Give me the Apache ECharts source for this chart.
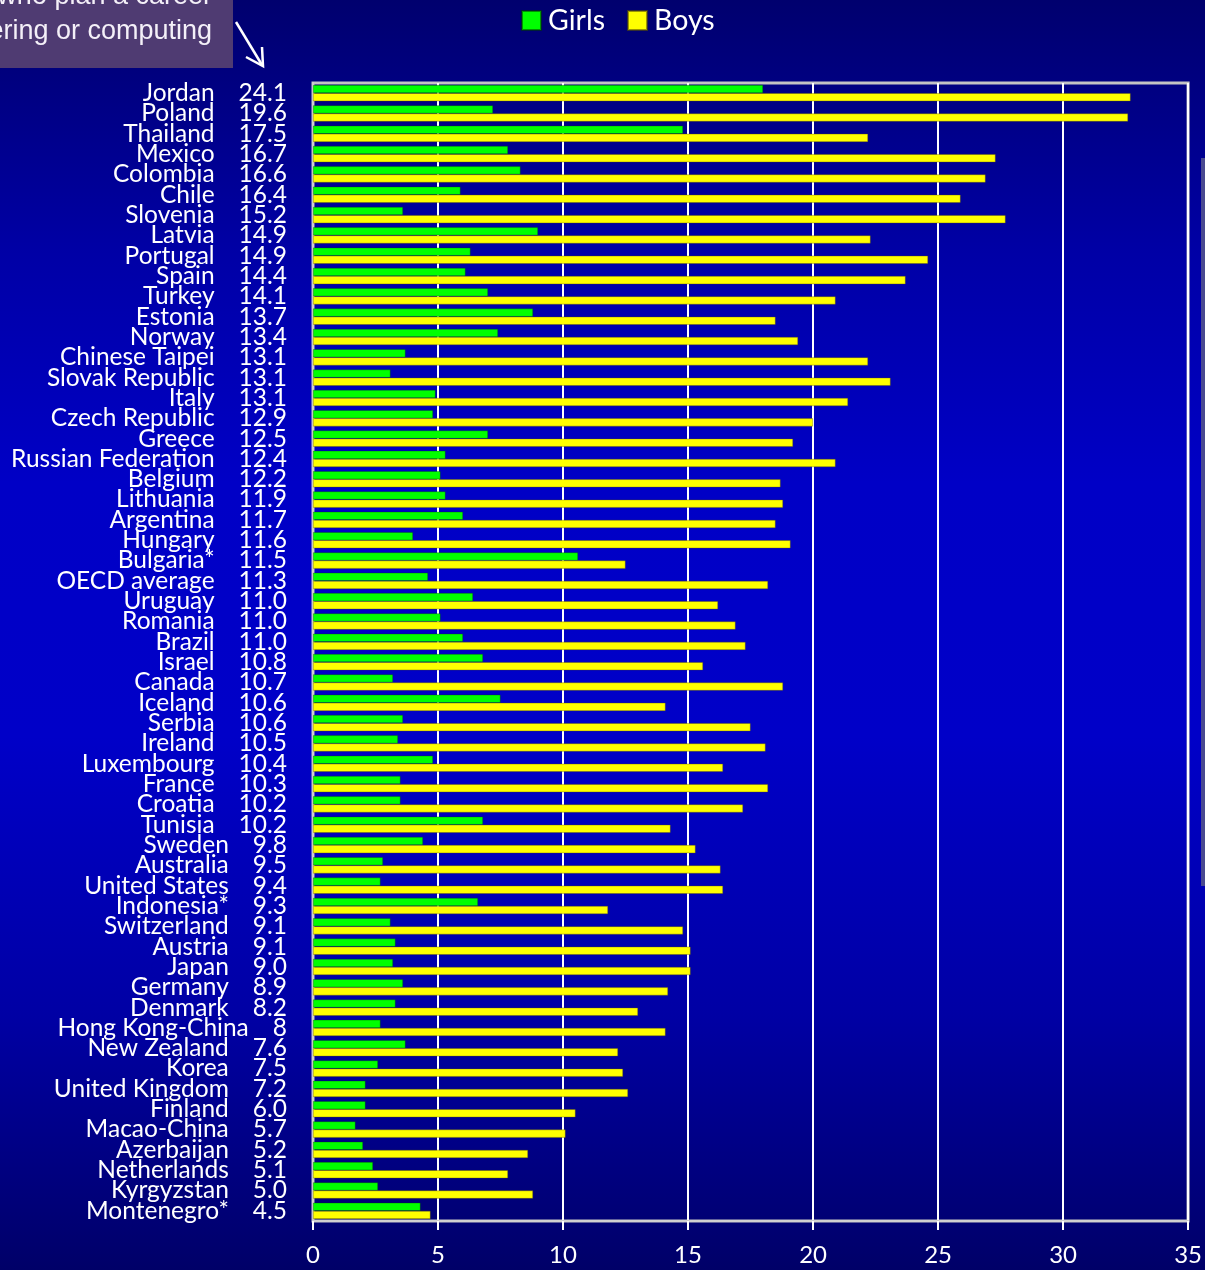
<!DOCTYPE html>
<html>
<head>
<meta charset="utf-8">
<script src="https://cdn.jsdelivr.net/npm/echarts@6/dist/echarts.min.js"></script>
<style>
  html, body { margin: 0; padding: 0; }
  #chart {
    width: 1205px; height: 1270px;
    background: linear-gradient(to bottom, #00006e 0%, #0000a6 20%, #0000c6 38%, #0000c8 58%, #0000a4 80%, #000068 100%);
  }
</style>
</head>
<body>
<div id="chart"></div>
<script>
// Countries, ranked by the share of 15-year-olds planning such a career
const countries = [
  'Jordan', 'Poland', 'Thailand', 'Mexico', 'Colombia', 'Chile', 'Slovenia',
  'Latvia', 'Portugal', 'Spain', 'Turkey', 'Estonia', 'Norway', 'Chinese Taipei',
  'Slovak Republic', 'Italy', 'Czech Republic', 'Greece', 'Russian Federation',
  'Belgium', 'Lithuania', 'Argentina', 'Hungary', 'Bulgaria*', 'OECD average',
  'Uruguay', 'Romania', 'Brazil', 'Israel', 'Canada', 'Iceland', 'Serbia',
  'Ireland', 'Luxembourg', 'France', 'Croatia', 'Tunisia', 'Sweden', 'Australia',
  'United States', 'Indonesia*', 'Switzerland', 'Austria', 'Japan', 'Germany',
  'Denmark', 'Hong Kong-China', 'New Zealand', 'Korea', 'United Kingdom',
  'Finland', 'Macao-China', 'Azerbaijan', 'Netherlands', 'Kyrgyzstan', 'Montenegro*'
];

// Overall percentage printed next to each country name
const totals = [
  '24.1', '19.6', '17.5', '16.7', '16.6', '16.4', '15.2',
  '14.9', '14.9', '14.4', '14.1', '13.7', '13.4', '13.1',
  '13.1', '13.1', '12.9', '12.5', '12.4',
  '12.2', '11.9', '11.7', '11.6', '11.5', '11.3',
  '11.0', '11.0', '11.0', '10.8', '10.7', '10.6', '10.6',
  '10.5', '10.4', '10.3', '10.2', '10.2', '9.8', '9.5',
  '9.4', '9.3', '9.1', '9.1', '9.0', '8.9',
  '8.2', '8', '7.6', '7.5', '7.2',
  '6.0', '5.7', '5.2', '5.1', '5.0', '4.5'
];

const girls = [
  18.0, 7.2, 14.8, 7.8, 8.3, 5.9, 3.6,
  9.0, 6.3, 6.1, 7.0, 8.8, 7.4, 3.7, 3.1, 4.9, 4.8, 7.0, 5.3,
  5.1, 5.3, 6.0, 4.0, 10.6, 4.6, 6.4, 5.1, 6.0, 6.8, 3.2, 7.5,
  3.6, 3.4, 4.8, 3.5, 3.5, 6.8, 4.4, 2.8, 2.7, 6.6, 3.1, 3.3,
  3.2, 3.6, 3.3, 2.7, 3.7, 2.6, 2.1, 2.1, 1.7, 2.0, 2.4, 2.6, 4.3
];

const boys = [
  32.7, 32.6, 22.2, 27.3, 26.9, 25.9, 27.7,
  22.3, 24.6, 23.7, 20.9, 18.5, 19.4, 22.2, 23.1, 21.4, 20.0, 19.2, 20.9,
  18.7, 18.8, 18.5, 19.1, 12.5, 18.2, 16.2, 16.9, 17.3, 15.6, 18.8, 14.1,
  17.5, 18.1, 16.4, 18.2, 17.2, 14.3, 15.3, 16.3, 16.4, 11.8, 14.8, 15.1,
  15.1, 14.2, 13.0, 14.1, 12.2, 12.4, 12.6, 10.5, 10.1, 8.6, 7.8, 8.8, 4.7
];

const FONT = 'Lato, "Open Sans", sans-serif';

const chart = echarts.init(document.getElementById('chart'), null, { renderer: 'canvas' });

chart.setOption({
  backgroundColor: 'transparent',
  animation: false,
  textStyle: { fontFamily: FONT },
  legend: {
    left: 516,
    top: 1,
    itemWidth: 19,
    itemHeight: 19,
    itemGap: 22,
    icon: 'rect',
    textStyle: { color: '#ffffff', fontSize: 28.5, fontFamily: FONT, padding: [0, 0, 0, 2] },
    data: ['Girls', 'Boys']
  },
  grid: {
    left: 313,
    right: 16,
    top: 83,
    bottom: 49,
    show: true,
    borderColor: '#c4c4c4',
    borderWidth: 3,
    backgroundColor: 'transparent'
  },
  xAxis: {
    type: 'value',
    min: 0,
    max: 35,
    interval: 5,
    axisLine: { show: true, lineStyle: { color: '#d0d0d0', width: 2 } },
    axisTick: { show: true, length: 9, lineStyle: { color: '#ffffff', width: 2 } },
    axisLabel: { color: '#ffffff', fontSize: 24, margin: 22, fontFamily: FONT },
    splitLine: { show: true, lineStyle: { color: '#ffffff', width: 2 } }
  },
  yAxis: {
    type: 'category',
    inverse: true,
    data: countries,
    axisLine: { show: true, lineStyle: { color: '#d0d0d0', width: 2 } },
    axisTick: { show: false },
    splitLine: { show: false },
    axisLabel: {
      interval: 0,
      margin: 26,
      align: 'right',
      formatter: (name, idx) => '{n|' + name + '}{v|' + totals[idx] + '}',
      rich: {
        n: { color: '#ffffff', fontSize: 24.5, fontFamily: FONT, lineHeight: 20 },
        v: { color: '#ffffff', fontSize: 24.5, fontFamily: FONT, lineHeight: 20, padding: [0, 0, 0, 24] }
      }
    }
  },
  series: [
    {
      name: 'Girls',
      type: 'bar',
      data: girls,
      barGap: '0%',
      barCategoryGap: '20%',
      itemStyle: { color: '#00ff00', borderColor: 'rgba(0,60,0,0.55)', borderWidth: 0.6 }
    },
    {
      name: 'Boys',
      type: 'bar',
      data: boys,
      barGap: '0%',
      barCategoryGap: '20%',
      itemStyle: { color: '#ffff00', borderColor: 'rgba(90,80,0,0.6)', borderWidth: 0.6 }
    }
  ],
  graphic: [
    {
      type: 'rect',
      shape: { x: 0, y: 0, width: 233, height: 68 },
      style: { fill: '#4f3b72' },
      z: 10
    },
    {
      type: 'text',
      x: 212,
      y: 14,
      style: {
        text: 'who plan a career\nering or computing',
        fill: '#f4f0f8',
        font: '27px "Liberation Sans", Arial, sans-serif',
        align: 'right',
        verticalAlign: 'middle',
        lineHeight: 35
      },
      z: 11
    },
    {
      type: 'polyline',
      shape: { points: [[236, 22], [262, 65]] },
      style: { stroke: '#ffffff', lineWidth: 2.5, fill: null },
      z: 11
    },
    {
      type: 'polyline',
      shape: { points: [[246, 57], [263, 66], [262, 47]] },
      style: { stroke: '#ffffff', lineWidth: 2.5, fill: null },
      z: 11
    },
    {
      type: 'rect',
      shape: { x: 1201, y: 158, width: 4, height: 728 },
      style: { fill: '#4a4a90' },
      z: 10
    }
  ]
});
</script>
</body>
</html>
